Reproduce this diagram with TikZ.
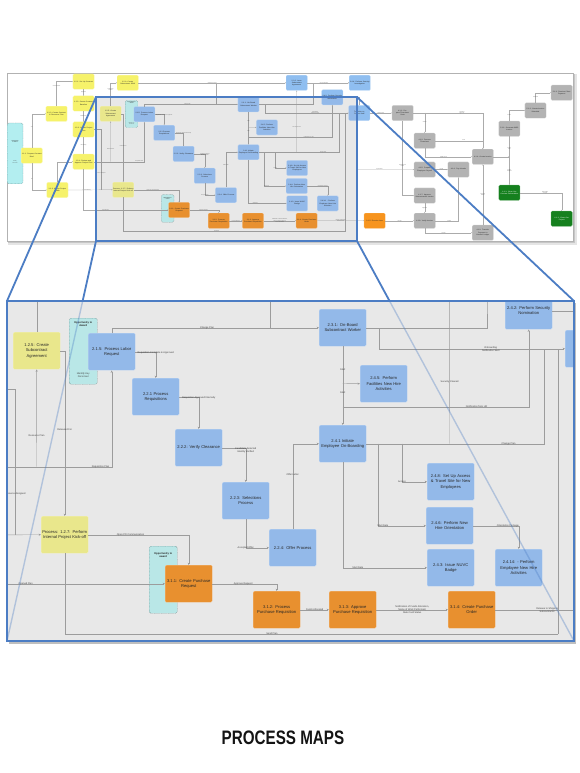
\documentclass[tikz,border=0pt]{standalone}
\usepackage{fontspec}
\setmainfont{Liberation Sans}
\usetikzlibrary{positioning,arrows.meta}

\definecolor{zoomblue}{HTML}{4C7DC4}
\definecolor{panelgray}{HTML}{E8E8E8}
% bright palette (overview) and dimmed palette (highlighted part)
\definecolor{ylwB}{HTML}{F6F26A}\definecolor{ylwD}{HTML}{E9E78C}
\definecolor{bluB}{HTML}{8FBEF0}\definecolor{bluD}{HTML}{93B9E9}
\definecolor{orgB}{HTML}{F7941E}\definecolor{orgD}{HTML}{E8902F}
\definecolor{cynB}{HTML}{B3EEF0}\definecolor{cynD}{HTML}{B9E7E7}
\definecolor{gryB}{HTML}{B3B3B3}\definecolor{gryD}{HTML}{ABABAB}
\definecolor{grnB}{HTML}{15801E}\definecolor{grnD}{HTML}{1D7A1D}
\definecolor{lnkB}{HTML}{ABABAB}\definecolor{lnkD}{HTML}{9C9C9C}

\newcommand{\brightmap}{\colorlet{ylw}{ylwB}\colorlet{blu}{bluB}\colorlet{org}{orgB}%
  \colorlet{cyn}{cynB}\colorlet{gry}{gryB}\colorlet{grn}{grnB}\colorlet{lnkcol}{lnkB}}
\newcommand{\dimmap}{\colorlet{ylw}{ylwD}\colorlet{blu}{bluD}\colorlet{org}{orgD}%
  \colorlet{cyn}{cynD}\colorlet{gry}{gryD}\colorlet{grn}{grnD}\colorlet{lnkcol}{lnkD}}
\dimmap

\newcommand{\boxfont}{\fontsize{4.1}{5.4}\selectfont}
\newcommand{\lblfont}{\fontsize{2.4}{2.9}\selectfont}
\newcommand{\oppfont}{\bfseries\fontsize{2.6}{3.1}\selectfont}
\newcommand{\titlefont}{\bfseries\fontsize{19.5}{22}\selectfont}
\newcommand{\mapwidth}{0.4pt}
\newcommand{\maptip}{2.4pt}
\newcommand{\maptipw}{2pt}
% texts that lie outside the zoomed panel (shown in the overview only)
\newcommand{\ot}[1]{#1}

\tikzset{
  proc/.style={rectangle, rounded corners=1.2pt, fill=#1, draw=#1!55!white,
    line width=\mapwidth, minimum width=47pt, minimum height=37pt,
    text width=45pt, inner sep=1pt, align=center, font=\boxfont,
    text=black!85, anchor=north west},
  opp/.style={rectangle, rounded corners=1.5pt, fill=cyn, draw=cyn!65!black,
    dash pattern=on 0.8pt off 0.6pt, line width=\mapwidth,
    minimum width=28pt, anchor=north west},
  opplbl/.style={font=\oppfont, align=center, inner sep=0.5pt, text=black!85},
  lnk/.style={draw=lnkcol, line width=\mapwidth,
    -{Stealth[length=\maptip, width=\maptipw]}},
  lnkn/.style={draw=lnkcol, line width=\mapwidth},
  lbl/.style={font=\lblfont, align=center, inner sep=0.3pt, text=black!75},
  overview/.style={shift={(94.1,-31)}, xscale=0.4506, yscale=0.413, transform shape},
  zoomline/.style={draw=zoomblue, line width=1.8pt},
}

% the whole process map, in the coordinates of the zoomed panel
\newcommand{\processmap}{%
  % opportunity lanes
  \node[opp, minimum width=35pt, minimum height=147pt,
    label={[opplbl, anchor=north, yshift=-42pt]north:{\ot{Opportunity\\to Award}}},
    label={[lbl, anchor=north, yshift=-92pt]north:{\ot{Identify\\Personnel}}}] (opp0) at (-193,373) {};
  \node[opp, minimum height=66pt,
    label={[opplbl, anchor=north, yshift=-3pt]north:{Opportunity to\\Award}},
    label={[lbl, anchor=south, yshift=6pt]south:{Identify Key\\Personnel}}] (opp1) at (69,318) {};
  \node[opp, minimum height=67pt,
    label={[opplbl, anchor=north, yshift=-6pt]north:{Opportunity to\\award}}] (opp2) at (149,546) {};

  % contract and project set-up
  \node[proc=ylw] (y111) at (-162,433) {\ot{1.1.1: Prepare Contract\\Brief}};
  \node[proc=ylw] (y112) at (-107,332) {\ot{1.1.2: Create Contract\\\& Resource Plan}};
  \node[proc=ylw] (y113) at (-105,516.5) {\ot{1.1.3: Assign Project\\Team}};
  \node[proc=ylw] (y121) at (-47,254) {\ot{1.2.1: Set Up Contract}};
  \node[proc=ylw] (y122) at (-47,307) {\ot{1.2.2: Create Contract\\Baseline}};
  \node[proc=ylw] (y123) at (-47,370) {\ot{1.2.3: Create Project\\Plan}};
  \node[proc=ylw] (y124) at (-47,448) {\ot{1.2.4: Review and\\Approve Project Plan}};
  \node[proc=ylw] (y126) at (51,257) {\ot{1.2.6: Create\\Subcontract SOW}};
  \node[proc=ylw] (p125) at (13,332) {1.2.5: Create\\Subcontract\\Agreement};
  \node[proc=ylw] (p127) at (41,516) {Process: 1.2.7: Perform\\Internal Project Kick-off};

  % staffing
  \node[proc=blu] (p215) at (88,333) {2.1.5: Process Labor\\Request};
  \node[proc=blu] (p221) at (132,378) {2.2.1 Process\\Requisitions};
  \node[proc=blu] (p222) at (175,429) {2.2.2: Verify Clearance};
  \node[proc=blu] (p223) at (222,482) {2.2.3: Selections\\Process};
  \node[proc=blu] (p224) at (269,529) {2.2.4: Offer Process};
  \node[proc=blu] (p231) at (319,309) {2.3.1: On-Board\\Subcontract Worker};
  \node[proc=blu] (b1) at (426,257) {\ot{2.3.2: Issue Subcontract\\Agreement}};
  \node[proc=blu] (p245) at (360,365) {2.4.5: Perform\\Facilities New Hire\\Activities};
  \node[proc=blu] (p241) at (319,425) {2.4.1 Initiate\\Employee On-Boarding};
  \node[proc=blu] (p242) at (505,292) {2.4.2: Perform Security\\Nomination};
  \node[proc=blu] (b2) at (566,257) {\ot{2.4.4: Perform Security\\Investigation}};
  \node[proc=blu] (p251) at (565,330) {Transition to\\Project Staff};
  \node[proc=blu] (p248) at (427,463) {2.4.8: Set Up Access\\\& Travel Site for New\\Employees};
  \node[proc=blu] (p246) at (426,507) {2.4.6: Perform New\\Hire Orientation};
  \node[proc=blu] (p243) at (427,549) {2.4.3: Issue NUVC\\Badge};
  \node[proc=blu] (p2414) at (495,549) {2.4.14: - Perform\\Employee New Hire\\Activities};

  % purchasing
  \node[proc=org] (p311) at (165,565) {3.1.1: Create Purchase\\Request};
  \node[proc=org] (p312) at (253,591) {3.1.2: Process\\Purchase Requisition};
  \node[proc=org] (p313) at (329,591) {3.1.3: Approve\\Purchase Requisition};
  \node[proc=org] (p314) at (448,591) {3.1.4: Create Purchase\\Order};
  \node[proc=org] (o315) at (599,591) {\ot{3.1.5: Receive Item}};

  % billing and close-out
  \node[proc=gry] (g1) at (661,330) {\ot{4.1.1: Prepare Timesheet\\Data}};
  \node[proc=gry] (g2) at (710,397) {\ot{4.1.2: Process\\Timesheet}};
  \node[proc=gry] (g3) at (839,436) {\ot{4.1.4: Create Invoice}};
  \node[proc=gry] (g4) at (710,467) {\ot{4.1.5: Prepare\\Employee Payroll}};
  \node[proc=gry] (g5) at (785,467) {\ot{4.1.6: Pay Vendor}};
  \node[proc=gry] (g6) at (710,530) {\ot{4.1.7: Approve\\Subcontractor Invoice}};
  \node[proc=gry] (g7) at (710,591) {\ot{4.1.8: Verify Invoice}};
  \node[proc=gry] (g8) at (839,620) {\ot{4.1.9: Transfer\\Payment to\\General Ledger}};
  \node[proc=gry] (g9) at (898,368) {\ot{5.1.1: Generate WBS\\Invoice}};
  \node[proc=gry] (g10) at (956,324) {\ot{5.1.2: Create Invoice\\Submittal}};
  \node[proc=gry] (g11) at (1014,281) {\ot{5.1.3: Receive Client\\Payment}};
  \node[proc=grn, text=white] (gr1) at (898,523) {\ot{6.1.1: Close Out\\Contract Deliverables}};
  \node[proc=grn, text=white] (gr2) at (1014,586) {\ot{6.1.2: Close Out\\Project}};

  % junction points
  \coordinate (jA) at (270,327.5);
  \coordinate (jB) at (342.5,407);
  \coordinate (jD) at (487,300);
  \coordinate (jE) at (544,348.5);
  \coordinate (jF) at (449.5,443.5);
  \coordinate (jG) at (378,443.5);
  \coordinate (jH) at (402,443.5);
  \coordinate (jI) at (15,535);
  \coordinate (jJ) at (36.5,466.5);
  \coordinate (jK) at (558,634);
  \coordinate (jL) at (582,485.5);
  \coordinate (jM) at (342.5,383.5);

  % set-up flow
  \draw[lnk] (y111.north) |- (y112.west) node[lbl, pos=0.3] {\ot{Yes}};
  \draw[lnk] (y111.south) |- (y113.west) node[lbl, pos=0.3] {\ot{No}};
  \draw[lnk] (y112.north) |- (y121.west) node[lbl, pos=0.4] {\ot{Contract Award}};
  \draw[lnk] (y121.south) -- (y122.north) node[lbl, pos=0.5] {\ot{Approved}};
  \draw[lnk] (y122.south) -- (y123.north) node[lbl, pos=0.5] {\ot{Baseline Set}};
  \draw[lnk] (y123.south) -- (y124.north) node[lbl, pos=0.5] {\ot{Plan Ready}};
  \draw[lnk] (y113.north) |- (y124.west);
  \draw[lnk] (y113.east) -- (p127.west) node[lbl, pos=0.42] {\ot{Kick-off Meeting}};
  \draw[lnkn] (y123.east) -| (jI) node[lbl, pos=0.86] {Resource Assigned};
  \draw[lnk] (y124.south) |- (p311.west) node[lbl, pos=0.63] {Opened Plan};
  \draw[lnk] (y124.east) -| (p215.south) node[lbl, pos=0.45] {Requisition Plan};
  \draw[lnk] (jJ) -- (p125.south) node[lbl, pos=0.32] {Resource Plan};
  \draw[lnk] (p125.north) |- (y126.west) node[lbl, pos=0.35] {\ot{Subcontract\\Needed}};
  \draw[lnk] (p125.east) -| (p127.north) node[lbl, pos=0.74] {Released For};
  \draw[lnk] (y126.east) -- (b1.west) node[lbl, pos=0.5] {\ot{Subcontract SOW}};
  \draw[lnkn] (jA) -- (jA |- b1.west);
  \draw[lnk] (b1.east) -- (b2.west) node[lbl, pos=0.4] {\ot{Security Request}};

  % staffing flow
  \draw[lnk] (p215.north) |- (p231.west) node[lbl, pos=0.73] {Change Plan};
  \draw[lnk] (p215.east) -| (p221.north) node[lbl, pos=0.5, below] {Requisition Complete \& Approved};
  \draw[lnk] (p221.east) -| (p222.north) node[lbl, pos=0.5, below] {Requisition Approved Internally};
  \draw[lnk] (p222.east) -| (p223.north) node[lbl, pos=0.5, below] {Candidate Selected\\Identity Verified};
  \draw[lnk] (p223.south) |- (p224.west) node[lbl, pos=0.5] {Accepted Offer};
  \draw[lnk] (p224.north) |- (p241.west) node[lbl, pos=0.32] {Offer Letter};
  \draw[lnk] (p231.south) -- (p241.north) node[lbl, pos=0.29] {Start} node[lbl, pos=0.59] {Start};
  \draw[lnk] (jM) -- (p245.west);
  \draw[lnk] (jB) -| (p242.south) node[lbl, pos=0.36] {Notification from HR};
  \draw[lnk] (p231.east) -- ++(13,0) |- (p251.west) node[lbl, pos=0.8] {Onboarding\\Notification Sent};
  \draw[lnk] (p231.east) -| (jD) |- (b2.west);
  \draw[lnkn] (p241.east) -| (jE) node[lbl, pos=0.4] {Change Plan};
  \draw[lnk] (jF) -- (b1.south) node[lbl, pos=0.41] {Security Cleared};
  \draw[lnk] (jG) |- (p246.west) node[lbl, pos=0.55] {Start Date};
  \draw[lnk] (jH) |- (p248.west) node[lbl, pos=0.5] {Access};
  \draw[lnk] (p241.south) |- (p243.west) node[lbl, pos=0.59] {Start Date};
  \draw[lnk] (p246.east) -| (p2414.north) node[lbl, pos=0.38] {Orientation Package};
  \draw[lnk] (p242.east) -| (p251.north);
  \draw[lnkn] (p127.south) |- (jK) node[lbl, pos=0.71] {Send Plan};
  \draw[lnkn] (jK) -- (jK |- p251.west);

  % purchasing flow
  \draw[lnk] (p127.east) -| (p311.north) node[lbl, pos=0.21] {Open PO Communication};
  \draw[lnk] (p311.east) -| (p312.north) node[lbl, pos=0.24] {Approve Request};
  \draw[lnk] (p312.east) -- (p313.west) node[lbl, pos=0.5] {Funds Allocated};
  \draw[lnk] (p313.east) -- (p314.west) node[lbl, pos=0.5] {Notification of Funds Allocation,\\Name of Work Performed,\\Rate Card Status};
  \draw[lnk] (p314.east) -- (o315.west) node[lbl, pos=0.5] {Release to Shipping\\Subcontractor};

  % billing flow
  \draw[lnk] (p251.east) -- (g1.west) node[lbl, pos=0.5] {\ot{Worker Active}};
  \draw[lnk] (g1.east) -| (g3.north) node[lbl, pos=0.35] {\ot{Timesheet\\Approved}};
  \draw[lnk] (g2.north |- g1.east) -- (g2.north) node[lbl, pos=0.45] {\ot{Submit}};
  \draw[lnk] (g1.south) |- (g6.west) node[lbl, pos=0.3] {\ot{Subcontractor\\Invoice}};
  \draw[lnk] (g2.east) -| (g3.north) node[lbl, pos=0.3] {\ot{Hours}};
  \draw[lnk] (g2.south) |- (g3.west) node[lbl, pos=0.7] {\ot{Billable Hours}};
  \draw[lnk] (g3.east) -- (g3.east -| g9.south);
  \draw[lnk] (g9.south) -- (gr1.north) node[lbl, pos=0.25] {\ot{Invoice\\Paid}} node[lbl, pos=0.7] {\ot{Project\\Complete}};
  \draw[lnk] (g9.north) |- (g10.west) node[lbl, pos=0.3] {\ot{Invoice}};
  \draw[lnk] (g10.north) |- (g11.west) node[lbl, pos=0.3] {\ot{Submitted}};
  \draw[lnk] (gr1.east) -| (gr2.north) node[lbl, pos=0.3] {\ot{Deliverables\\Accepted}};
  \draw[lnk] (g4.east) -- (g5.west) node[lbl, pos=0.5] {\ot{Payroll}};
  \draw[lnk] (g8.north) -- (g3.south) node[lbl, pos=0.5] {\ot{Payment\\Posted}};
  \draw[lnk] (g6.south) -- (g7.north) node[lbl, pos=0.5] {\ot{Approved}};
  \draw[lnk] (o315.east) -- (g7.west) node[lbl, pos=0.5] {\ot{Receipt}};
  \draw[lnk] (g7.east) -| (g5.south) node[lbl, pos=0.3] {\ot{Verified}};
  \draw[lnk] (g7.south) |- (g8.west) node[lbl, pos=0.7] {\ot{Transfer}};
  \draw[lnk] (jL) -- (g4.west) node[lbl, pos=0.4] {\ot{Payroll Data}};
}

\begin{document}
\begin{tikzpicture}[x=1pt, y=-1pt]
  \useasboundingbox (0,0) rectangle (580,773);
  \fill[white] (0,0) rectangle (580,773);

  % corners of the highlight and of the zoomed panel
  \coordinate (hlnw) at (96,97);
  \coordinate (hlne) at (357,97);
  \coordinate (hlsw) at (96,241);
  \coordinate (hlse) at (357,241);
  \coordinate (pnnw) at (7,301);
  \coordinate (pnne) at (574,301);
  \coordinate (pnsw) at (7,641);
  \coordinate (pnse) at (574,641);

  % overview of the whole map
  \fill[black!10] (8,74) rectangle (576.5,244.5);
  \fill[black!22] (8,74) rectangle (575,243);
  \filldraw[fill=white, draw=black!30, line width=0.6pt] (7,73) rectangle (573,241);
  \begin{scope}[overview]
    \renewcommand{\mapwidth}{0.22pt}\renewcommand{\maptip}{1.1pt}\renewcommand{\maptipw}{0.9pt}
    \brightmap
    \processmap
  \end{scope}

  % highlighted part of the overview
  \fill[panelgray] (hlnw) rectangle (hlse);
  \begin{scope}
    \clip (hlnw) rectangle (hlse);
    \begin{scope}[overview]
      \renewcommand{\mapwidth}{0.22pt}\renewcommand{\maptip}{1.1pt}\renewcommand{\maptipw}{0.9pt}
      \renewcommand{\ot}[1]{}
      \dimmap
      \processmap
    \end{scope}
  \end{scope}

  % zoom lines
  \draw[zoomline] (hlnw) -- (pnnw);
  \draw[zoomline] (hlne) -- (pnne);
  \draw[zoomline] (hlsw) -- (pnsw);
  \draw[zoomline] (hlse) -- (pnse);

  % zoomed panel
  \fill[black!25] (8.5,302.5) rectangle (576,644);
  \fill[panelgray] (pnnw) rectangle (pnse);
  \begin{scope}
    \clip (pnnw) rectangle (pnse);
    \renewcommand{\ot}[1]{}
    \dimmap
    \processmap
    \draw[zoomline, line width=1.4pt, opacity=0.35] (hlsw) -- (pnsw);
    \draw[zoomline, line width=1.4pt, opacity=0.35] (hlse) -- (pnse);
  \end{scope}
  \draw[zoomblue, line width=2pt] (pnnw) rectangle (pnse);
  \draw[zoomblue, line width=2.2pt] (hlnw) rectangle (hlse);

  \node[font=\titlefont, text=black!92] (title) at (283,738) {\scalebox{0.78}[1]{PROCESS MAPS}};
\end{tikzpicture}
\end{document}
